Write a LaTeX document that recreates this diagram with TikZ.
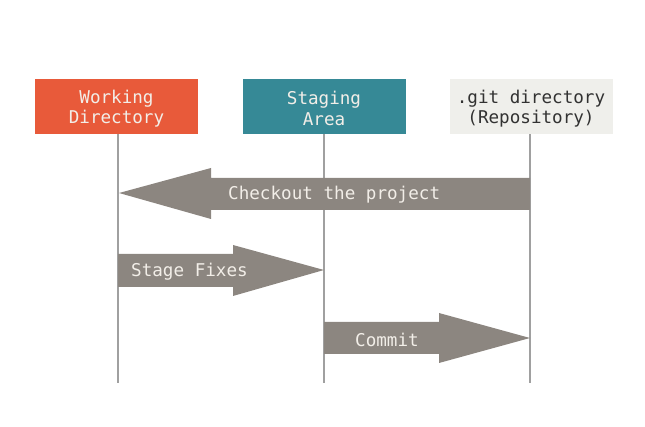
\documentclass[tikz,border=0pt]{standalone}
\usepackage{fontspec}
\setmonofont{DejaVu Sans Mono}
\usetikzlibrary{calc}
\definecolor{wdred}{RGB}{232,90,58}
\definecolor{sateal}{RGB}{54,137,150}
\definecolor{repogrey}{RGB}{239,239,235}
\definecolor{arrowgrey}{RGB}{140,134,128}
\definecolor{lifegrey}{RGB}{160,160,160}
\definecolor{lighttext}{RGB}{242,238,232}
\definecolor{darktext}{RGB}{50,50,50}
\tikzset{
  area/.style={minimum width=163pt, minimum height=55pt, inner sep=0pt},
  arealabel/.style={inner sep=0pt, align=center, font=\fontsize{17.6}{20.5}\selectfont\ttfamily},
  lifeline/.style={draw=lifegrey, line width=1.1pt},
  bigarrow/.style={fill=arrowgrey, draw=none},
  arrowtext/.style={text=lighttext, font=\fontsize{17.6}{20}\selectfont\ttfamily, inner sep=0pt, anchor=west}
}
\begin{document}
\begin{tikzpicture}[x=1pt,y=-1pt]
\useasboundingbox (0,0) rectangle (645,427);
\node[area, fill=wdred] (wd) at (116.5,106.5) {};
\node[area, fill=sateal] (sa) at (324,106.5) {};
\node[area, fill=repogrey] (repo) at (531,106.5) {};
\node[arealabel, text=lighttext] (wdl) at ($(wd.center)+(0,2)$) {Working\\Directory};
\node[arealabel, text=lighttext] (sal) at ($(sa.center)+(0,2)$) {Staging\\Area};
\node[arealabel, text=darktext] (repol) at ($(repo.center)+(0,2)$) {.git directory\\(Repository)};
\coordinate (wdend) at (118,383);
\coordinate (saend) at (324,383);
\coordinate (repoend) at (530,383);
\draw[lifeline] (wd.south -| wdend) -- (wdend);
\draw[lifeline] (sa.south -| saend) -- (saend);
\draw[lifeline] (repo.south -| repoend) -- (repoend);
% Checkout arrow: repo -> wd
\coordinate (co1) at (530,193);
\coordinate (co2) at (119,193);
\fill[bigarrow] (co1) ++(0,-15) -- ($(co2)+(92,-15)$) -- ($(co2)+(92,-25)$) -- (co2)
  -- ($(co2)+(92,26)$) -- ($(co2)+(92,17)$) -- ($(co1)+(0,17)$) -- cycle;
\node[arrowtext] (cot) at (228,195) {Checkout the project};
% Stage fixes: wd -> sa
\coordinate (sf1) at (118,270);
\coordinate (sf2) at (324,270);
\fill[bigarrow] (sf1) ++(0,-16) -- ($(sf2)+(-91,-16)$) -- ($(sf2)+(-91,-25)$) -- (sf2)
  -- ($(sf2)+(-91,26)$) -- ($(sf2)+(-91,17)$) -- ($(sf1)+(0,17)$) -- cycle;
\node[arrowtext] (sft) at (131,272) {Stage Fixes};
% Commit: sa -> repo
\coordinate (cm1) at (324,338);
\coordinate (cm2) at (530,338);
\fill[bigarrow] (cm1) ++(0,-16) -- ($(cm2)+(-91,-16)$) -- ($(cm2)+(-91,-25)$) -- (cm2)
  -- ($(cm2)+(-91,25)$) -- ($(cm2)+(-91,16)$) -- ($(cm1)+(0,16)$) -- cycle;
\node[arrowtext] (cmt) at (355,340) {Commit};
\end{tikzpicture}
\end{document}
